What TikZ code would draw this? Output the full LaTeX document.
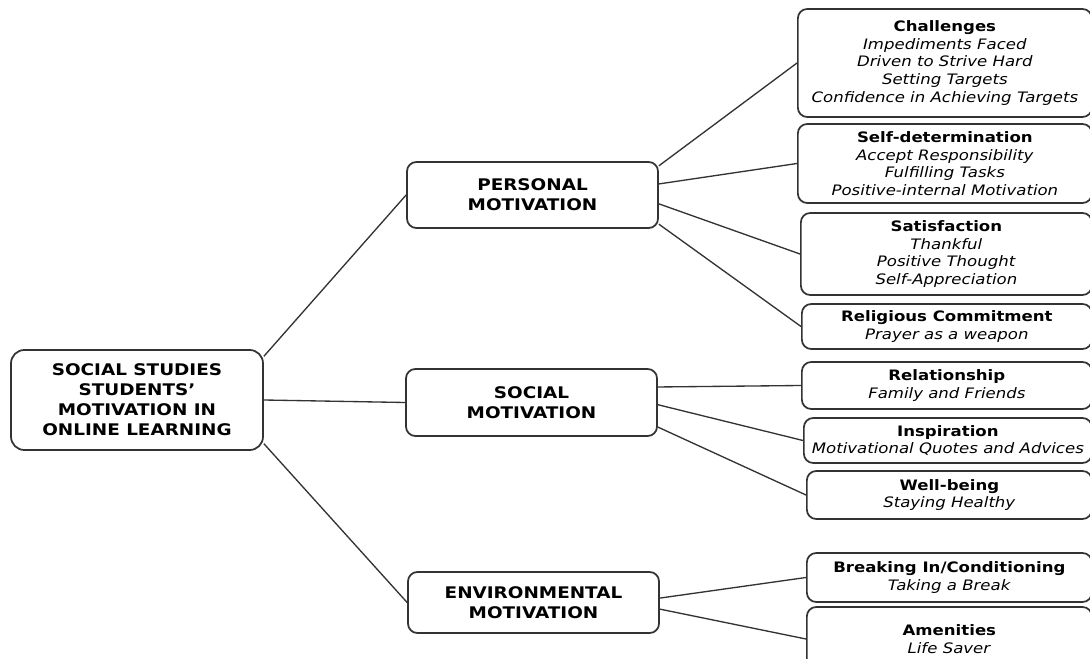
\documentclass[tikz,border=0pt]{standalone}
\usepackage{fontspec}
\setmainfont{DejaVu Sans}[FakeStretch=1.15]

\begin{document}
\begin{tikzpicture}[x=0.75pt, y=-0.75pt,
    box/.style={rectangle, draw=black!80, line width=1.3pt, rounded corners=7pt,
      align=center, inner sep=2pt},
    main/.style 2 args={box, minimum width={#1*0.75pt}, minimum height={#2*0.75pt},
      font=\bfseries\fontsize{12}{15}\selectfont},
    leaf/.style 2 args={box, anchor=west, minimum width={#1*0.75pt},
      minimum height={#2*0.75pt}, font=\fontsize{10.8}{13.2}\selectfont},
    link/.style={draw=black!80, line width=1pt}]

  \clip (0,0) rectangle (1090,659);

  \node[main={252}{100}, rounded corners=10pt] (root) at (137,400)
    {SOCIAL STUDIES\\STUDENTS’\\MOTIVATION IN\\ONLINE LEARNING};
  \node[main={251}{66}] (personal) at (532.5,195) {PERSONAL\\MOTIVATION};
  \node[main={251}{67}] (social) at (531.5,402.5) {SOCIAL\\MOTIVATION};
  \node[main={251}{61}] (environ) at (533.5,602.5) {ENVIRONMENTAL\\MOTIVATION};

  \node[leaf={294}{108}] (challenges) at (797,63) {\textbf{Challenges}\\
    \textit{Impediments Faced}\\\textit{Driven to Strive Hard}\\
    \textit{Setting Targets}\\\textit{Confidence in Achieving Targets}};
  \node[leaf={294}{79}] (selfdet) at (797,163.5) {\textbf{Self-determination}\\
    \textit{Accept Responsibility}\\\textit{Fulfilling Tasks}\\
    \textit{Positive-internal Motivation}};
  \node[leaf={291}{82}] (satisfy) at (800,254) {\textbf{Satisfaction}\\
    \textit{Thankful}\\\textit{Positive Thought}\\\textit{Self-Appreciation}};
  \node[leaf={290}{45}] (religion) at (801,326.5) {\textbf{Religious Commitment}\\
    \textit{Prayer as a weapon}};
  \node[leaf={290}{47}] (relation) at (801,385.5) {\textbf{Relationship}\\
    \textit{Family and Friends}};
  \node[leaf={288}{45}] (inspire) at (803,440.5) {\textbf{Inspiration}\\
    \textit{Motivational Quotes and Advices}};
  \node[leaf={285}{48}] (wellbeing) at (806,495) {\textbf{Well-being}\\
    \textit{Staying Healthy}};
  \node[leaf={285}{49}] (breakin) at (806,577.5) {\textbf{Breaking In/Conditioning}\\
    \textit{Taking a Break}};
  \node[leaf={285}{64}] (amenity) at (806,639) {\textbf{Amenities}\\
    \textit{Life Saver}};

  % root to the three kinds of motivation
  \draw[link] (root.19) -- (personal.west);
  \draw[link] (root.east) -- (social.west);
  \draw[link] (root.-19) -- (environ.west);

  \draw[link] (personal.13) -- (challenges.west);
  \draw[link] (personal.5) -- (selfdet.west);
  \draw[link] (personal.-4) -- (satisfy.west);
  \draw[link] (personal.-13) -- (religion.west);

  \draw[link] (social.7) -- (relation.west);
  \draw[link] (social.-1) -- (inspire.west);
  \draw[link] (social.-11) -- (wellbeing.west);

  \draw[link] (environ.2) -- (breakin.west);
  \draw[link] (environ.-3) -- (amenity.west);
\end{tikzpicture}
\end{document}
